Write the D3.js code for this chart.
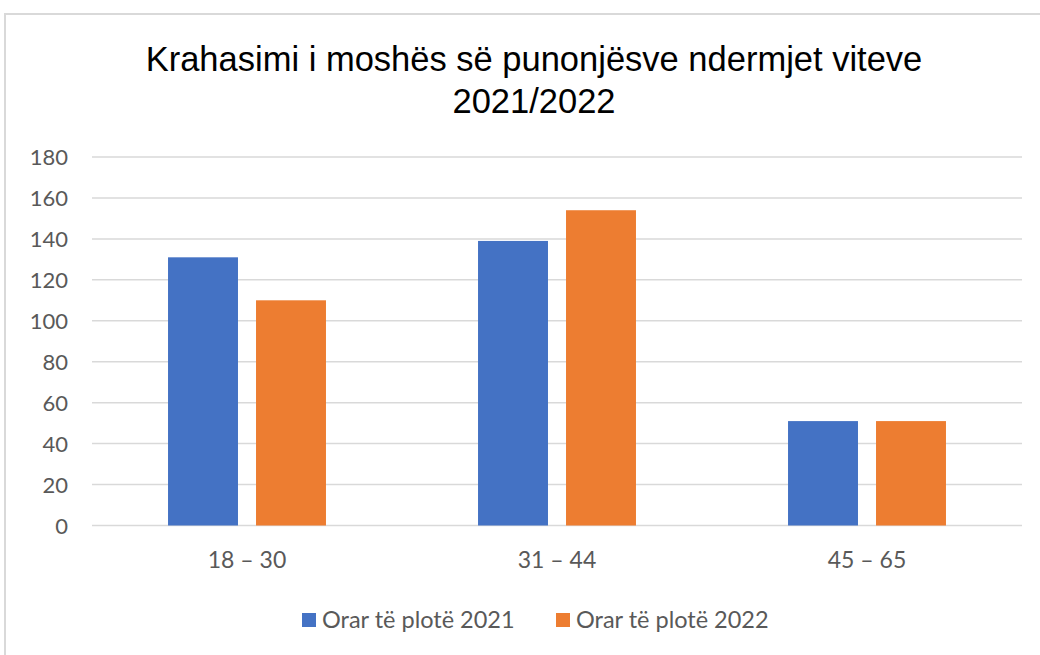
<!DOCTYPE html>
<html>
<head>
<meta charset="utf-8">
<script src="https://cdn.jsdelivr.net/npm/d3@7"></script>
<style>
  body { margin: 0; background: #fff; }
  svg { display: block; }
  .eje text { fill: #595959; font-family: Lato, "Open Sans", sans-serif; }
  .eje path { display: none; }
  .eje line { display: none; }
</style>
</head>
<body>
<div id="graf"></div>
<script>
// I. Datos
categorias = ['18 – 30', '31 – 44', '45 – 65']
series = ['Orar të plotë 2021', 'Orar të plotë 2022']
valores2021 = [131, 139, 51]
valores2022 = [110, 154, 51]
ticksY = [0, 20, 40, 60, 80, 100, 120, 140, 160, 180]
colores = ['#4472c4', '#ed7d31']

ancho_total = 1040
alto_total = 655
margins = { top: 157, left: 92, right: 18, bottom: 130 }
ancho = ancho_total - margins.left - margins.right
alto = alto_total - margins.top - margins.bottom

svg = d3.select('#graf').append('svg')
  .attr('width', ancho_total)
  .attr('height', alto_total)

// marco del grafico
svg.append('rect')
  .attr('x', 5).attr('y', 14)
  .attr('width', 1100).attr('height', 700)
  .attr('fill', '#fff')
  .attr('stroke', '#d9d9d9')
  .attr('stroke-width', 2)

g = svg.append('g')
  .attr('transform', `translate(${margins.left}, ${margins.top})`)

y = d3.scaleLinear().domain([0, 180]).range([alto + 0.5, 0])
x0 = d3.scaleBand().domain(categorias).range([0, ancho])
x1 = d3.scaleBand().domain(series).range([0, x0.bandwidth()])
  .paddingInner(0.205).paddingOuter(0.864)

// lineas de cuadricula
g.selectAll('.grid')
  .data(ticksY)
  .enter().append('line')
  .attr('x1', 0).attr('x2', ancho)
  .attr('y1', d => y(d)).attr('y2', d => y(d))
  .attr('stroke', '#d9d9d9')
  .attr('stroke-width', 1.5)

// barras
datos = []
categorias.forEach((c, i) => {
  datos.push({ cat: c, serie: series[0], valor: valores2021[i] })
  datos.push({ cat: c, serie: series[1], valor: valores2022[i] })
})
color = d3.scaleOrdinal().domain(series).range(colores)

g.selectAll('rect.barra')
  .data(datos)
  .enter().append('rect')
  .attr('class', 'barra')
  .attr('x', d => x0(d.cat) + x1(d.serie))
  .attr('width', x1.bandwidth())
  .attr('y', d => y(d.valor))
  .attr('height', d => y(0) - y(d.valor))
  .attr('fill', d => color(d.serie))

// ejes
yAxisGroup = g.append('g').attr('class', 'eje')
  .call(d3.axisLeft(y).tickValues(ticksY).tickSize(0).tickPadding(24))
yAxisGroup.selectAll('text').style('font-size', '22px').attr('dy', '0.36em')

xAxisGroup = g.append('g').attr('class', 'eje')
  .attr('transform', `translate(0, ${alto})`)
  .call(d3.axisBottom(x0).tickSize(0).tickPadding(0))
xAxisGroup.selectAll('text').style('font-size', '23px')
  .attr('dy', null).attr('y', 43)

// titulo
titulo = svg.append('text')
  .attr('text-anchor', 'middle')
  .style('font-family', '"Liberation Sans", Arial, sans-serif')
  .style('font-size', '34.5px')
  .attr('fill', '#000')
titulo.append('tspan').attr('x', 534).attr('y', 71)
  .text('Krahasimi i moshës së punonjësve ndermjet viteve')
titulo.append('tspan').attr('x', 534).attr('y', 113)
  .text('2021/2022')

// leyenda
leyX = [302, 556]
leyenda = svg.selectAll('.ley')
  .data(series)
  .enter().append('g')
  .attr('transform', (d, i) => `translate(${leyX[i]}, 613)`)
leyenda.append('rect')
  .attr('width', 14).attr('height', 14)
  .attr('fill', d => color(d))
leyenda.append('text')
  .attr('x', 20).attr('y', 15)
  .style('font-family', 'Lato, "Open Sans", sans-serif')
  .style('font-size', '23.5px')
  .attr('fill', '#595959')
  .text(d => d)
</script>
</body>
</html>
